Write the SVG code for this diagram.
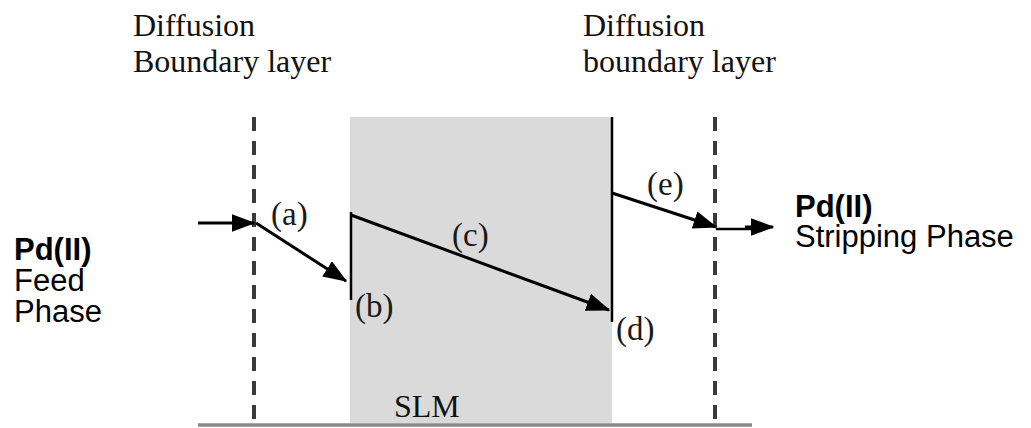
<svg xmlns="http://www.w3.org/2000/svg" width="1031" height="428" viewBox="0 0 1031 428">
<style>
.serif{font-family:"Liberation Serif","Times New Roman",serif;font-size:32px;fill:#111}
.lab{font-family:"Liberation Serif","Times New Roman",serif;font-size:33px;fill:#1a1a1a}
.sans{font-family:"Liberation Sans",Arial,sans-serif;font-size:31px;fill:#000}
.bold{font-weight:bold}
.dash{stroke:#3a3a3a;stroke-width:4;stroke-dasharray:14 10;fill:none}
.ln{stroke:#000;stroke-width:3;fill:none}
.thin{stroke:#000;stroke-width:2.5;fill:none}
</style>
<defs>
<marker id="ah" markerWidth="8" markerHeight="6" refX="7.5" refY="3" orient="auto" markerUnits="strokeWidth">
<path d="M0,0 L8,3 L0,6 Z" fill="#000"/>
</marker>
</defs>
<rect width="1031" height="428" fill="#fff"/>
<g id="slm">
<rect x="350" y="117" width="262" height="306" fill="#dadada"/>
<text class="serif" x="394" y="417">SLM</text>
</g>
<g id="base">
<line x1="198" y1="425" x2="752" y2="425" stroke="#888" stroke-width="3.5"/>
</g>
<g id="left-boundary">
<line class="dash" x1="254" y1="117" x2="254" y2="422"/>
<text class="serif" x="133" y="36">Diffusion</text>
<text class="serif" x="133" y="72">Boundary layer</text>
</g>
<g id="right-boundary">
<line class="dash" x1="715" y1="117" x2="715" y2="420"/>
<text class="serif" x="583" y="36">Diffusion</text>
<text class="serif" x="583" y="72">boundary layer</text>
</g>
<g id="feed">
<text class="sans bold" x="14" y="260">Pd(II)</text>
<text class="sans" x="14" y="291">Feed</text>
<text class="sans" x="14" y="322">Phase</text>
</g>
<g id="stripping">
<text class="sans bold" x="795" y="217">Pd(II)</text>
<text class="sans" x="795" y="247">Stripping Phase</text>
</g>
<g id="interface-b">
<line class="thin" x1="351" y1="212" x2="351" y2="300"/>
<text class="lab" x="355" y="317">(b)</text>
</g>
<g id="interface-d">
<line class="thin" x1="612" y1="117" x2="612" y2="322"/>
<text class="lab" x="616" y="340">(d)</text>
</g>
<g id="connectors">
<line class="ln" x1="198" y1="223" x2="254" y2="223" marker-end="url(#ah)"/>
<line class="ln" x1="256" y1="223" x2="346" y2="281" marker-end="url(#ah)"/>
<line class="ln" x1="351" y1="215" x2="609" y2="310" marker-end="url(#ah)"/>
<line class="ln" x1="612" y1="193" x2="716" y2="227" marker-end="url(#ah)"/>
<line class="thin" x1="716" y1="229" x2="752" y2="229"/>
<line class="ln" x1="745" y1="227" x2="773" y2="227" marker-end="url(#ah)"/>
</g>
<g id="labels">
<text class="lab" x="271" y="225">(a)</text>
<text class="lab" x="452" y="246">(c)</text>
<text class="lab" x="647" y="195">(e)</text>
</g>
</svg>
